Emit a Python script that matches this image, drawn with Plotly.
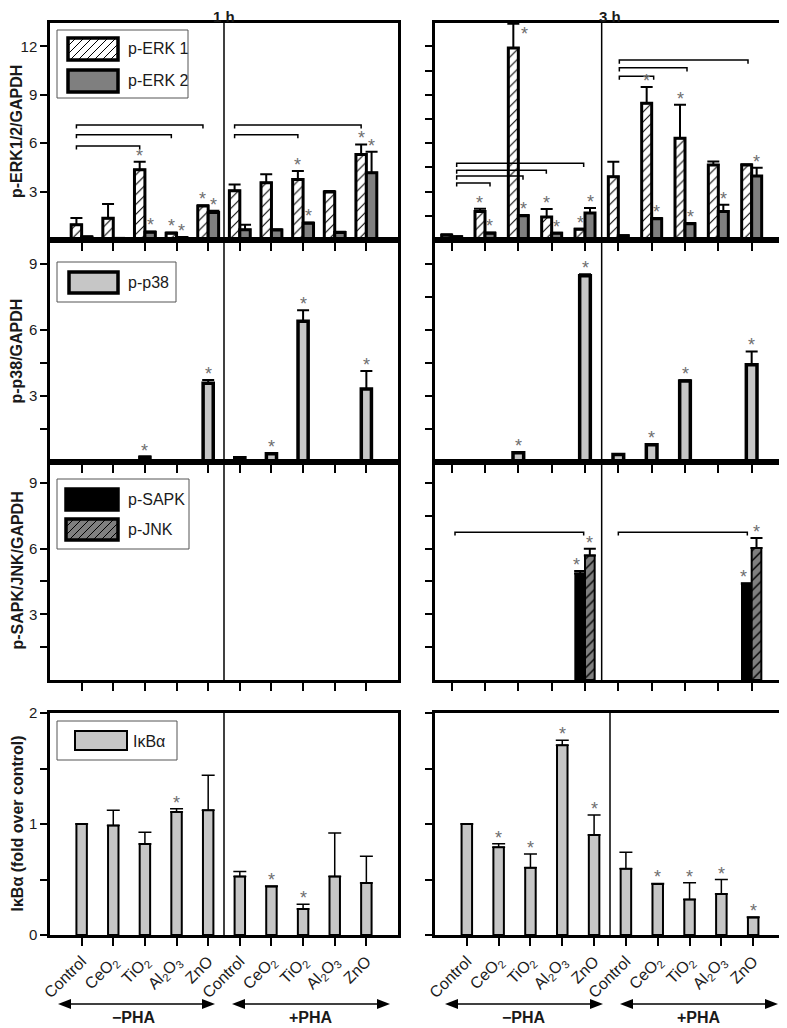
import plotly.graph_objects as go

# The page body adds an 8 px offset, so the figure is laid out in image pixels shifted by it.
IMG_W, IMG_H = 787, 1028
OX, OY = 8, 8
W, H = IMG_W - OX, IMG_H - OY
FONT = "Liberation Sans, Arial, sans-serif"

# ---------------- data ----------------
categories = ["Control", "CeO<sub>2</sub>", "TiO<sub>2</sub>", "Al<sub>2</sub>O<sub>3</sub>", "ZnO",
              "Control", "CeO<sub>2</sub>", "TiO<sub>2</sub>", "Al<sub>2</sub>O<sub>3</sub>", "ZnO"]
positions = list(range(10))
time_points = ["1 h", "3 h"]
treatments = ["\u2212PHA", "+PHA"]

# p-ERK1/2 / GAPDH
erk1_1h = [0.95, 1.35, 4.35, 0.42, 2.1, 3.06, 3.55, 3.75, 2.98, 5.3]
erk1_1h_err = [0.42, 0.88, 0.5, 0.05, 0.05, 0.38, 0.52, 0.52, 0.05, 0.62]
erk1_1h_sig = [0, 0, 1, 1, 1, 0, 0, 1, 0, 1]
erk2_1h = [0.18, 0.1, 0.48, 0.15, 1.7, 0.63, 0.62, 1.04, 0.46, 4.17]
erk2_1h_err = [0.05, 0.03, 0.05, 0.03, 0.12, 0.32, 0.05, 0.05, 0.05, 1.3]
erk2_1h_sig = [0, 0, 1, 1, 1, 0, 0, 1, 0, 1]

erk1_3h = [0.3, 1.77, 11.9, 1.42, 0.67, 3.92, 8.48, 6.31, 4.65, 4.65]
erk1_3h_err = [0.05, 0.17, 1.5, 0.5, 0.03, 0.93, 1.0, 2.07, 0.21, 0.05]
erk1_3h_sig = [0, 1, 1, 1, 1, 0, 1, 1, 0, 0]
erk2_3h = [0.2, 0.42, 1.5, 0.42, 1.67, 0.27, 1.31, 1.0, 1.77, 3.96]
erk2_3h_err = [0.03, 0.05, 0.05, 0.03, 0.31, 0.03, 0.05, 0.05, 0.42, 0.52]
erk2_3h_sig = [0, 1, 1, 1, 1, 0, 1, 1, 1, 1]

# brackets (from category, to category, height) in ERK units
erk_brackets_1h = [(0, 2, 5.83), (0, 3, 6.52), (0, 4, 7.13), (5, 7, 6.52), (5, 9, 7.13)]
erk_brackets_3h = [(0.15, 1.15, 3.54), (0.15, 2.14, 3.96), (0.15, 2.84, 4.33), (0.15, 3.96, 4.75),
                   (5.03, 6.06, 10.15), (5.03, 7.06, 10.67), (5.03, 8.89, 11.15)]

# p-p38 / GAPDH
p38_1h = [0, 0, 0.22, 0, 3.58, 0.19, 0.37, 6.4, 0, 3.32]
p38_1h_err = [0, 0, 0.03, 0, 0.15, 0.02, 0.03, 0.5, 0, 0.82]
p38_1h_sig = [0, 0, 1, 0, 1, 0, 1, 1, 0, 1]
p38_3h = [0, 0, 0.42, 0, 8.47, 0.34, 0.79, 3.69, 0, 4.42]
p38_3h_err = [0, 0, 0.03, 0, 0.07, 0.02, 0.03, 0.03, 0, 0.61]
p38_3h_sig = [0, 0, 1, 0, 1, 0, 1, 1, 0, 1]

# p-SAPK/JNK / GAPDH
sapk_1h = [0] * 10
jnk_1h = [0] * 10
sapk_3h = [0, 0, 0, 0, 4.86, 0, 0, 0, 0, 4.39]
sapk_3h_err = [0, 0, 0, 0, 0.11, 0, 0, 0, 0, 0.03]
sapk_3h_sig = [0, 0, 0, 0, 1, 0, 0, 0, 0, 1]
jnk_3h = [0, 0, 0, 0, 5.68, 0, 0, 0, 0, 6.03]
jnk_3h_err = [0, 0, 0, 0, 0.31, 0, 0, 0, 0, 0.45]
jnk_3h_sig = [0, 0, 0, 0, 1, 0, 0, 0, 0, 1]
sapk_brackets_3h = [(0.1, 3.96, 6.74), (5.0, 8.87, 6.74)]

# IkBa (fold over control)
ikb_1h = [1.0, 0.986, 0.82, 1.107, 1.125, 0.528, 0.437, 0.235, 0.528, 0.468]
ikb_1h_err = [0, 0.139, 0.106, 0.03, 0.315, 0.045, 0.005, 0.043, 0.392, 0.241]
ikb_1h_sig = [0, 0, 0, 1, 0, 0, 1, 1, 0, 0]
ikb_3h = [1.0, 0.79, 0.605, 1.71, 0.9, 0.597, 0.46, 0.32, 0.37, 0.157]
ikb_3h_err = [0, 0.033, 0.125, 0.045, 0.18, 0.148, 0.005, 0.15, 0.13, 0.005]
ikb_3h_sig = [0, 1, 1, 1, 1, 0, 1, 1, 1, 1]

# ---------------- helpers ----------------
def py(p):
    return 1 - (p - OY) / H

def px(p):
    return (p - OX) / W

col_dom = [[px(50), px(398)], [px(435), px(785)]]
row_dom = [[py(240), py(23)], [py(462), py(240)], [py(680), py(462)], [py(935), py(713)]]
y_ranges = [[0, 13.45], [0, 10.1], [0, 9.95], [0, 2.0]]

fig = go.Figure()


def ax(k):
    return ("x" if k == 1 else f"x{k}", "y" if k == 1 else f"y{k}")


def add_bars(k, values, errors, color, w, off, line_w, err_thick, cap, pattern=None):
    xa, ya = ax(k)
    vals = [v if v > 0 else None for v in values]
    errs = [e if e > 0 else None for e in errors]
    marker = dict(color=color, line=dict(color="black", width=line_w))
    if pattern:
        marker["pattern"] = pattern
    fig.add_trace(go.Bar(
        x=positions, y=vals, width=w, offset=off, marker=marker,
        error_y=dict(type="data", array=errs, arrayminus=[0] * 10, symmetric=False,
                     color="black", thickness=err_thick, width=cap),
        xaxis=xa, yaxis=ya, showlegend=False, cliponaxis=False))


annotations = []
shapes = []


def add_stars(k, values, errors, sig, dx, overrides=None):
    xa, ya = ax(k)
    overrides = overrides or {}
    for i in range(10):
        if not sig[i]:
            continue
        x = positions[i] + dx
        y = values[i] + errors[i]
        xs = 0
        if i in overrides:
            xs, y = overrides[i]
        annotations.append(dict(x=x, y=y, xref=xa, yref=ya, text="*", showarrow=False,
                                xanchor="center", yanchor="bottom", yshift=-6, xshift=xs,
                                font=dict(family=FONT, size=18, color="#6e6e6e")))


def add_brackets(k, brackets, dx, drop):
    xa, ya = ax(k)
    for a, b, yv in brackets:
        x1, x2 = a + dx, b + dx
        shapes.append(dict(type="path", xref=xa, yref=ya,
                           path=f"M {x1},{yv - drop} L {x1},{yv} L {x2},{yv} L {x2},{yv - drop}",
                           line=dict(color="black", width=1.5)))


hatch_white = dict(shape="/", fillmode="replace", bgcolor="white", fgcolor="black", size=7, solidity=0.15)
hatch_gray = dict(shape="/", fillmode="replace", bgcolor="#7f7f7f", fgcolor="black", size=7, solidity=0.2)
GRAY_D = "#7f7f7f"
GRAY_L = "#c6c6c6"

# ERK panels
wl, wr = 0.33, 0.30
add_bars(1, erk1_1h, erk1_1h_err, "white", wl, -wl, 3, 2, 6, hatch_white)
add_bars(1, erk2_1h, erk2_1h_err, GRAY_D, wl, 0, 3, 2, 6)
add_stars(1, erk1_1h, erk1_1h_err, erk1_1h_sig, -wl / 2)
add_stars(1, erk2_1h, erk2_1h_err, erk2_1h_sig, wl / 2)
add_brackets(1, erk_brackets_1h, -wl / 2, 0.22)

add_bars(2, erk1_3h, erk1_3h_err, "white", wr, -wr, 3, 2, 6, hatch_white)
add_bars(2, erk2_3h, erk2_3h_err, GRAY_D, wr, 0, 3, 2, 6)
add_stars(2, erk1_3h, erk1_3h_err, erk1_3h_sig, -wr / 2, overrides={2: (11, erk1_3h[2] + 0.5)})
add_stars(2, erk2_3h, erk2_3h_err, erk2_3h_sig, wr / 2)
add_brackets(2, erk_brackets_3h, 0, 0.22)

# p38 panels
wp = 0.32
add_bars(3, p38_1h, p38_1h_err, GRAY_L, wp, -wp / 2, 3.5, 2, 6)
add_stars(3, p38_1h, p38_1h_err, p38_1h_sig, 0)
add_bars(4, p38_3h, p38_3h_err, GRAY_L, wp, -wp / 2, 3.5, 2, 6)
add_stars(4, p38_3h, p38_3h_err, p38_3h_sig, 0)

# SAPK/JNK panels
ws = 0.29
add_bars(5, sapk_1h, [0] * 10, "black", ws, -ws, 2, 2, 6)
add_bars(5, jnk_1h, [0] * 10, GRAY_D, ws, 0, 2, 2, 6, hatch_gray)
add_bars(6, sapk_3h, sapk_3h_err, "black", ws, -ws, 2, 2, 6)
add_bars(6, jnk_3h, jnk_3h_err, GRAY_D, ws, 0, 2, 2, 6, hatch_gray)
add_stars(6, sapk_3h, sapk_3h_err, sapk_3h_sig, -ws / 2 - 0.1)
add_stars(6, jnk_3h, jnk_3h_err, jnk_3h_sig, ws / 2)
add_brackets(6, sapk_brackets_3h, 0, 0.15)

# IkBa panels
wi = 0.33
add_bars(7, ikb_1h, ikb_1h_err, GRAY_L, wi, -wi / 2, 2, 1.5, 6.5)
add_stars(7, ikb_1h, ikb_1h_err, ikb_1h_sig, 0)
add_bars(8, ikb_3h, ikb_3h_err, GRAY_L, wi, -wi / 2, 2, 1.5, 6.5)
add_stars(8, ikb_3h, ikb_3h_err, ikb_3h_sig, 0)

# ---------------- axes ----------------
y_tick_left = [
    ([3, 6, 9, 12], ["3", "6", "9", "12"]),
    ([1.5, 3, 4.5, 6, 9], ["", "3", "", "6", "9"]),
    ([1.5, 3, 4.5, 6, 9], ["", "3", "", "6", "9"]),
    ([0, 0.5, 1, 1.5, 2], ["0", "", "1", "", "2"]),
]
y_tick_right = [
    [1.5 * i for i in range(1, 9)],
    [1.5 * i for i in range(1, 7)],
    [1.5 * i for i in range(1, 7)],
    [0, 0.5, 1, 1.5, 2],
]

layout = dict(width=W, height=H, margin=dict(l=0, r=0, t=0, b=0, pad=0, autoexpand=False),
              paper_bgcolor="white", plot_bgcolor="white", showlegend=False,
              font=dict(family=FONT, color="#1a1a1a"))

for k in range(1, 9):
    r, c = (k - 1) // 2, (k - 1) % 2
    xa, ya = ax(k)
    xkey = "xaxis" if k == 1 else f"xaxis{k}"
    ykey = "yaxis" if k == 1 else f"yaxis{k}"
    xr = [-0.5, 10] if (c == 1 and r < 3) else [-1, 10]
    bottom = r == 3
    layout[xkey] = dict(domain=col_dom[c], anchor=ya, range=xr, tickmode="array",
                        tickvals=positions, ticktext=categories if bottom else [""] * 10,
                        showticklabels=bottom, tickangle=-45 if bottom else 0,
                        tickfont=dict(size=16, family=FONT, color="#1a1a1a"),
                        ticks="outside", ticklen=8, tickwidth=2, tickcolor="black",
                        showline=True, mirror=True, linewidth=2.5, linecolor="black",
                        showgrid=False, zeroline=False, fixedrange=True, automargin=False)
    if c == 0:
        tv, tt = y_tick_left[r]
    else:
        tv = y_tick_right[r]
        tt = [""] * len(tv)
    layout[ykey] = dict(domain=row_dom[r], anchor=xa, range=y_ranges[r], tickmode="array",
                        tickvals=tv, ticktext=tt, showticklabels=(c == 0),
                        tickfont=dict(size=15, family=FONT, color="#1a1a1a"),
                        ticks="outside", ticklen=7, tickwidth=2, tickcolor="black",
                        showline=True, mirror=True, linewidth=2.5, linecolor="black",
                        showgrid=False, zeroline=False, fixedrange=True, automargin=False)
    shapes.append(dict(type="line", xref=xa, yref=f"{ya} domain", x0=4.5, x1=4.5, y0=0, y1=1,
                       line=dict(color="black", width=1.5), layer="above"))

# ---------------- titles ----------------
for c in range(2):
    annotations.append(dict(x=(col_dom[c][0] + col_dom[c][1]) / 2, y=1.0, xref="paper", yref="paper",
                            text=f"<b>{time_points[c]}</b>", showarrow=False,
                            xanchor="center", yanchor="top", borderpad=0, borderwidth=0,
                            font=dict(family=FONT, size=15, color="#1a1a1a")))

y_titles = ["p-ERK1/2/GAPDH", "p-p38/GAPDH", "p-SAPK/JNK/GAPDH", "I\u03baB\u03b1 (fold over control)"]
for r, t in enumerate(y_titles):
    annotations.append(dict(x=0.0, y=(row_dom[r][0] + row_dom[r][1]) / 2, xref="paper", yref="paper",
                            text=f"<b>{t}</b>", textangle=-90, showarrow=False,
                            xanchor="left", yanchor="middle", borderpad=0, borderwidth=0,
                            font=dict(family=FONT, size=16, color="#1a1a1a")))

# ---------------- legends (drawn) ----------------
def hatch_path(x0, y0, x1, y1, spacing):
    h = y1 - y0
    c = x0 - h
    parts = []
    while c < x1:
        t0 = max(0, x0 - c)
        t1 = min(h, x1 - c)
        if t1 > t0:
            parts.append(f"M {px(c + t0)},{py(y1 - t0)} L {px(c + t1)},{py(y1 - t1)}")
        c += spacing
    return " ".join(parts)


def legend_box(x0, y0, x1, y1):
    shapes.append(dict(type="rect", xref="paper", yref="paper", x0=px(x0), x1=px(x1), y0=py(y1), y1=py(y0),
                       line=dict(color="#555555", width=1), fillcolor="white", layer="above"))


def swatch(x0, y0, x1, y1, fill, lw, hatch=False):
    shapes.append(dict(type="rect", xref="paper", yref="paper", x0=px(x0), x1=px(x1), y0=py(y1), y1=py(y0),
                       line=dict(color="black", width=0), fillcolor=fill, layer="above"))
    if hatch:
        shapes.append(dict(type="path", xref="paper", yref="paper", path=hatch_path(x0, y0, x1, y1, 8),
                           line=dict(color="black", width=1), layer="above"))
    shapes.append(dict(type="rect", xref="paper", yref="paper", x0=px(x0), x1=px(x1), y0=py(y1), y1=py(y0),
                       line=dict(color="black", width=lw), fillcolor="rgba(0,0,0,0)", layer="above"))


def legend_text(x, y, t):
    annotations.append(dict(x=px(x), y=py(y), xref="paper", yref="paper", text=t, showarrow=False,
                            xanchor="left", yanchor="middle",
                            font=dict(family=FONT, size=16, color="#1a1a1a")))


legend_box(57, 30, 188, 98)
swatch(68, 38, 118, 60, "white", 3.5, hatch=True)
swatch(68, 70, 118, 92, GRAY_D, 3.5)
legend_text(126, 49, "p-ERK 1")
legend_text(126, 81, "p-ERK 2")

legend_box(57, 262, 176, 302)
swatch(69, 272, 118, 293, GRAY_L, 3.5)
legend_text(126, 283, "p-p38")

legend_box(57, 479, 189, 549)
swatch(66, 489, 118, 510, "black", 3.5)
swatch(66, 519, 118, 540, GRAY_D, 3.5, hatch=True)
legend_text(126, 499, "p-SAPK")
legend_text(126, 529, "p-JNK")

legend_box(57, 721, 177, 760)
swatch(75, 731, 127, 750, GRAY_L, 2)
legend_text(131, 741, "I\u03baB\u03b1")

# ---------------- PHA arrows ----------------
arrow_spans = [(58, 215, 134, 0), (232, 390, 311, 1), (445, 603, 524, 0), (620, 778, 699, 1)]
AY = 1004
for x0, x1, xt, t in arrow_spans:
    shapes.append(dict(type="line", xref="paper", yref="paper", x0=px(x0 + 6), x1=px(x1 - 6),
                       y0=py(AY), y1=py(AY), line=dict(color="black", width=1.5)))
    for tip, sgn in ((x0, 1), (x1, -1)):
        shapes.append(dict(type="path", xref="paper", yref="paper",
                           path=f"M {px(tip)},{py(AY)} L {px(tip + sgn * 13)},{py(AY - 5)} "
                                f"L {px(tip + sgn * 13)},{py(AY + 5)} Z",
                           fillcolor="black", line=dict(color="black", width=0)))
    annotations.append(dict(x=px(xt), y=py(IMG_H), xref="paper", yref="paper", text=f"<b>{treatments[t]}</b>",
                            showarrow=False, xanchor="center", yanchor="bottom",
                            font=dict(family=FONT, size=16, color="#1a1a1a")))

layout["annotations"] = annotations
layout["shapes"] = shapes
fig.update_layout(**layout)
fig.write_html("out.html")
